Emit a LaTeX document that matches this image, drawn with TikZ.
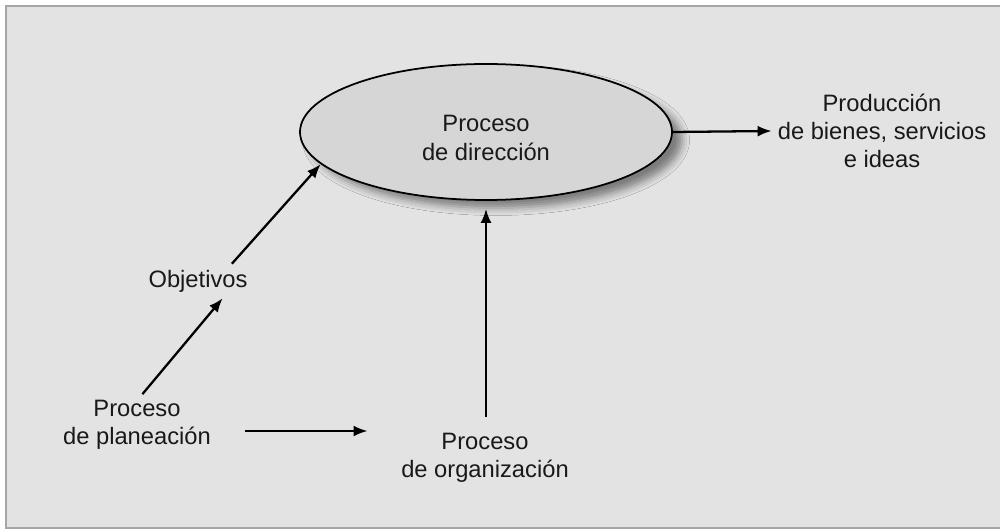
\documentclass[tikz,border=0pt]{standalone}
\usepackage{fontspec}
\setmainfont{Liberation Sans}
\usetikzlibrary{arrows.meta,shapes.geometric,shadows.blur}
\begin{document}
\begin{tikzpicture}[
   lbl/.style={align=center,text=black!90,font=\fontsize{13.5}{16}\selectfont},
   arr/.style={-{Latex[length=0.28cm,width=0.22cm]},line width=1.3pt}]
   \useasboundingbox (0,0) rectangle (20,10.62);
   \draw[gray!70,line width=1.2pt,fill=black!11] (0.12,0.06) rectangle (20.2,10.5);
   \node[ellipse,draw,line width=1pt,fill=black!16,minimum width=7.44cm,minimum height=2.72cm,
      blur shadow={shadow xshift=0.2cm,shadow yshift=-0.16cm,shadow opacity=45,shadow blur radius=0.15cm}] (dir) at (9.72,7.98) {};
   \node[lbl] (dirtxt) at ([yshift=-0.12cm]dir.center) {Proceso\\de direcci\'on};
   \node[lbl] (prod) at (17.64,8.0) {Producci\'on\\de bienes, servicios\\e ideas};
   \node[lbl] (obj) at (3.96,5.0) {Objetivos};
   \node[lbl] (plan) at (2.74,2.12) {Proceso\\de planeaci\'on};
   \node[lbl] (org) at (9.7,1.46) {Proceso\\de organizaci\'on};
   \draw[arr] (dir.east) -- (prod.west);
   \draw[arr] (plan.80) -- (obj.-35);
   \draw[arr] (obj.27) -- (dir.191);
   \draw[arr,shorten <=0.2cm,shorten >=0.16cm] (org.north -| dir.south) -- (dir.south);
   \draw[arr,shorten <=0.55cm,shorten >=0.55cm] ([yshift=-0.12cm]plan.east) -- ([yshift=-0.12cm]plan.east -| org.west);
\end{tikzpicture}
\end{document}
